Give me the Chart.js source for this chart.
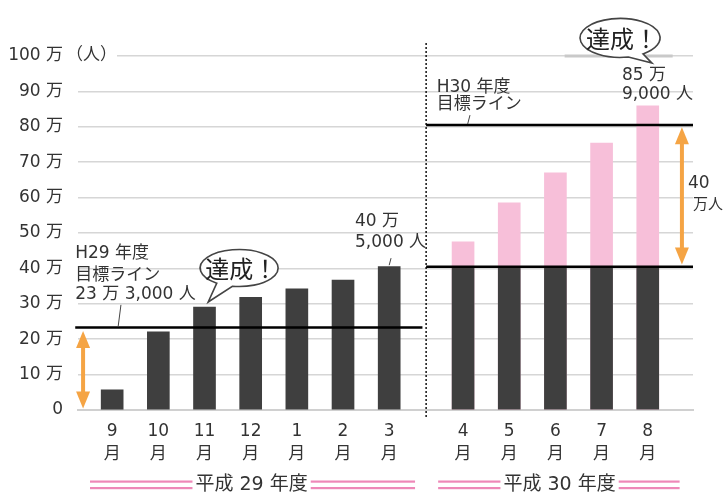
<!DOCTYPE html>
<html>
<head>
<meta charset="utf-8">
<script src="https://cdn.jsdelivr.net/npm/chart.js@4/dist/chart.umd.min.js"></script>
<style>html,body{margin:0;background:#fff}</style>
</head>
<body>
<canvas id="miGrafico" width="723" height="494"></canvas>
<script>
// datos (unidad: 万人)
const MESES = ['9', '10', '11', '12', '1', '2', '3', '4', '5', '6', '7', '8'];
const POSICION = [0, 1, 2, 3, 4, 5, 6, 7.6, 8.6, 9.6, 10.6, 11.6]; // hueco entre H29 y H30
const VISITANTES = [5.7, 22.1, 29.1, 31.8, 34.2, 36.7, 40.5, 40.5, 40.5, 40.5, 40.5, 40.5];
const TOTAL_H30 = [null, null, null, null, null, null, null, 47.5, 58.5, 67, 75.4, 85.9];
const META_H29 = 23.3;
const META_H30 = 80.5;
const LOGRO_H29 = 40.5;
const Y_TICKS = [0, 10, 20, 30, 40, 50, 60, 70, 80, 90, 100];

const FUENTE = '"DejaVu Sans", "Noto Sans CJK JP", sans-serif';
const GRIS = '#333';
const NARANJA = '#f5a444';
const ROSA = '#ee88b8';

const GRAFICO = document.getElementById('miGrafico');

function flecha(ctx, x, y1, y2) {
    ctx.save();
    ctx.strokeStyle = NARANJA;
    ctx.fillStyle = NARANJA;
    ctx.lineWidth = 4;
    ctx.beginPath();
    ctx.moveTo(x, y1 + 10);
    ctx.lineTo(x, y2 - 10);
    ctx.stroke();
    ctx.beginPath();
    ctx.moveTo(x, y1); ctx.lineTo(x - 7, y1 + 17); ctx.lineTo(x + 7, y1 + 17); ctx.closePath();
    ctx.fill();
    ctx.beginPath();
    ctx.moveTo(x, y2); ctx.lineTo(x - 7, y2 - 17); ctx.lineTo(x + 7, y2 - 17); ctx.closePath();
    ctx.fill();
    ctx.restore();
}

function globo(ctx, cx, cy, rx, ry, a1, a2, tx, ty) {
    ctx.save();
    ctx.beginPath();
    ctx.ellipse(cx, cy, rx, ry, 0, a2 * Math.PI / 180, (a1 + 360) * Math.PI / 180);
    ctx.lineTo(tx, ty);
    ctx.closePath();
    ctx.fillStyle = '#fff';
    ctx.fill();
    ctx.strokeStyle = '#444';
    ctx.lineWidth = 1.6;
    ctx.stroke();
    ctx.fillStyle = '#222';
    ctx.font = '400 24px "Noto Sans CJK JP", sans-serif';
    ctx.textAlign = 'center';
    ctx.textBaseline = 'middle';
    ctx.fillText('達成！', cx + 2, cy + 1);
    ctx.restore();
}

const anotaciones = {
    id: 'anotaciones',
    afterDatasetsDraw(chart) {
        const ctx = chart.ctx;
        const x = chart.scales.x, y = chart.scales.y;
        const X = v => x.getPixelForValue(v);
        const Y = v => y.getPixelForValue(v);

        ctx.save();
        // (人)
        ctx.fillStyle = '#fff';
        ctx.fillRect(66, Y(100) - 12, 51, 24);
        ctx.fillStyle = GRIS;
        ctx.font = '17px ' + FUENTE;
        ctx.textBaseline = 'middle';
        ctx.textAlign = 'left';
        ctx.fillText('（人）', 66, Y(100));

        // franja gris tras el globo
        ctx.strokeStyle = '#c9c9c9';
        ctx.lineWidth = 3;
        ctx.beginPath();
        ctx.moveTo(X(9.8), Y(100)); ctx.lineTo(X(12.14), Y(100));
        ctx.stroke();

        // linea punteada
        ctx.strokeStyle = '#111';
        ctx.lineWidth = 1.5;
        ctx.setLineDash([2, 2]);
        ctx.beginPath();
        ctx.moveTo(X(6.8), Y(103.7));
        ctx.lineTo(X(6.8), Y(-2.3));
        ctx.stroke();
        ctx.setLineDash([]);

        // lineas de meta
        ctx.strokeStyle = '#000';
        ctx.lineWidth = 2.5;
        ctx.beginPath();
        ctx.moveTo(X(-0.8), Y(META_H29)); ctx.lineTo(X(6.72), Y(META_H29));
        ctx.moveTo(X(6.8), Y(META_H30)); ctx.lineTo(x.right, Y(META_H30));
        ctx.moveTo(X(6.8), Y(LOGRO_H29)); ctx.lineTo(x.right, Y(LOGRO_H29));
        ctx.stroke();

        // lineas guia
        ctx.strokeStyle = '#444';
        ctx.lineWidth = 1;
        ctx.beginPath();
        ctx.moveTo(X(0.19), Y(29.7)); ctx.lineTo(X(0.13), Y(META_H29 + 0.3));
        ctx.moveTo(X(6.04), Y(42.9)); ctx.lineTo(X(6.0), Y(LOGRO_H29 + 0.4));
        ctx.moveTo(X(7.75), Y(83.3)); ctx.lineTo(X(7.7), Y(META_H30 + 0.3));
        ctx.stroke();

        // textos
        ctx.fillStyle = GRIS;
        ctx.font = '17px ' + FUENTE;
        ctx.textAlign = 'left';
        ctx.fillText('H29 年度', X(-0.8), Y(44.3));
        ctx.fillText('目標ライン', X(-0.8), Y(38.1));
        ctx.fillText('23 万 3,000 人', X(-0.8), Y(32.5));
        ctx.fillText('40 万', X(5.26), Y(53.1));
        ctx.fillText('5,000 人', X(5.26), Y(47.2));
        ctx.fillText('H30 年度', X(7.03), Y(91.2));
        ctx.fillText('目標ライン', X(7.03), Y(86.2));
        ctx.fillText('85 万', X(11.04), Y(94.6));
        ctx.fillText('9,000 人', X(11.04), Y(89.0));
        ctx.fillText('40', X(12.47), Y(64.1));
        ctx.font = '15px ' + FUENTE;
        ctx.fillText('万人', X(12.58), Y(57.9));

        // flechas
        flecha(ctx, X(-0.63), Y(META_H29 - 1), Y(0.4));
        flecha(ctx, X(12.34), Y(META_H30 - 0.6), Y(LOGRO_H29 + 0.6));

        // globos
        globo(ctx, X(2.75), Y(40.1), 39, 18.5, 100, 125, X(2.08), Y(30.5));
        globo(ctx, X(11.0), Y(105.1), 40, 19.5, 55, 78, X(11.69), Y(98.0));

        // años fiscales
        const bajo = y.bottom + 75;
        ctx.font = '19px ' + FUENTE;
        ctx.textAlign = 'center';
        ctx.fillStyle = GRIS;
        [['平成 29 年度', 3.02, -0.48, 6.56], ['平成 30 年度', 9.69, 7.06, 12.29]].forEach(f => {
            const c = X(f[1]);
            const w = ctx.measureText(f[0]).width / 2 + 3;
            ctx.fillText(f[0], c, bajo);
            ctx.fillStyle = ROSA;
            [-3.5, 3].forEach(d => {
                ctx.fillRect(X(f[2]), bajo + d - 1, c - w - X(f[2]), 2.2);
                ctx.fillRect(c + w, bajo + d - 1, X(f[3]) - c - w, 2.2);
            });
            ctx.fillStyle = GRIS;
        });
        ctx.restore();
    }
};

let graficaBarras = new Chart(GRAFICO, {
    type: 'bar',
    data: {
        datasets: [{
            label: '来場者',
            data: POSICION.map((p, i) => ({x: p, y: VISITANTES[i]})),
            backgroundColor: '#3f3f3f',
            barThickness: 22
        }, {
            label: 'H30',
            data: POSICION.map((p, i) => ({x: p, y: TOTAL_H30[i]})),
            backgroundColor: '#f7bfd9',
            barThickness: 22
        }]
    },
    options: {
        responsive: false,
        animation: false,
        grouped: false,
        layout: {padding: {left: 0, right: 30, top: 56, bottom: 0}},
        plugins: {legend: {display: false}, tooltip: {enabled: false}},
        scales: {
            x: {
                type: 'linear',
                offset: false,
                min: -0.74,
                max: 12.58,
                afterBuildTicks: s => { s.ticks = POSICION.map(v => ({value: v})); },
                afterFit: s => { s.height = 84; },
                grid: {display: false, drawTicks: false, offset: false},
                border: {display: true, color: '#d0d0d0', width: 2},
                ticks: {
                    autoSkip: false,
                    maxRotation: 0,
                    padding: 10,
                    color: GRIS,
                    font: {family: FUENTE, size: 17, lineHeight: 1.35},
                    callback: v => [MESES[POSICION.indexOf(v)], '月']
                }
            },
            y: {
                min: 0,
                max: 100,
                afterBuildTicks: s => { s.ticks = Y_TICKS.map(v => ({value: v})); },
                afterFit: s => { s.width = 78; },
                grid: {color: '#d6d6d6', lineWidth: 1.5, drawTicks: false},
                border: {display: false},
                ticks: {
                    padding: 15,
                    color: GRIS,
                    font: {family: FUENTE, size: 17},
                    callback: v => v === 0 ? '0' : v + ' 万'
                }
            }
        }
    },
    plugins: [anotaciones]
});
</script>
</body>
</html>
